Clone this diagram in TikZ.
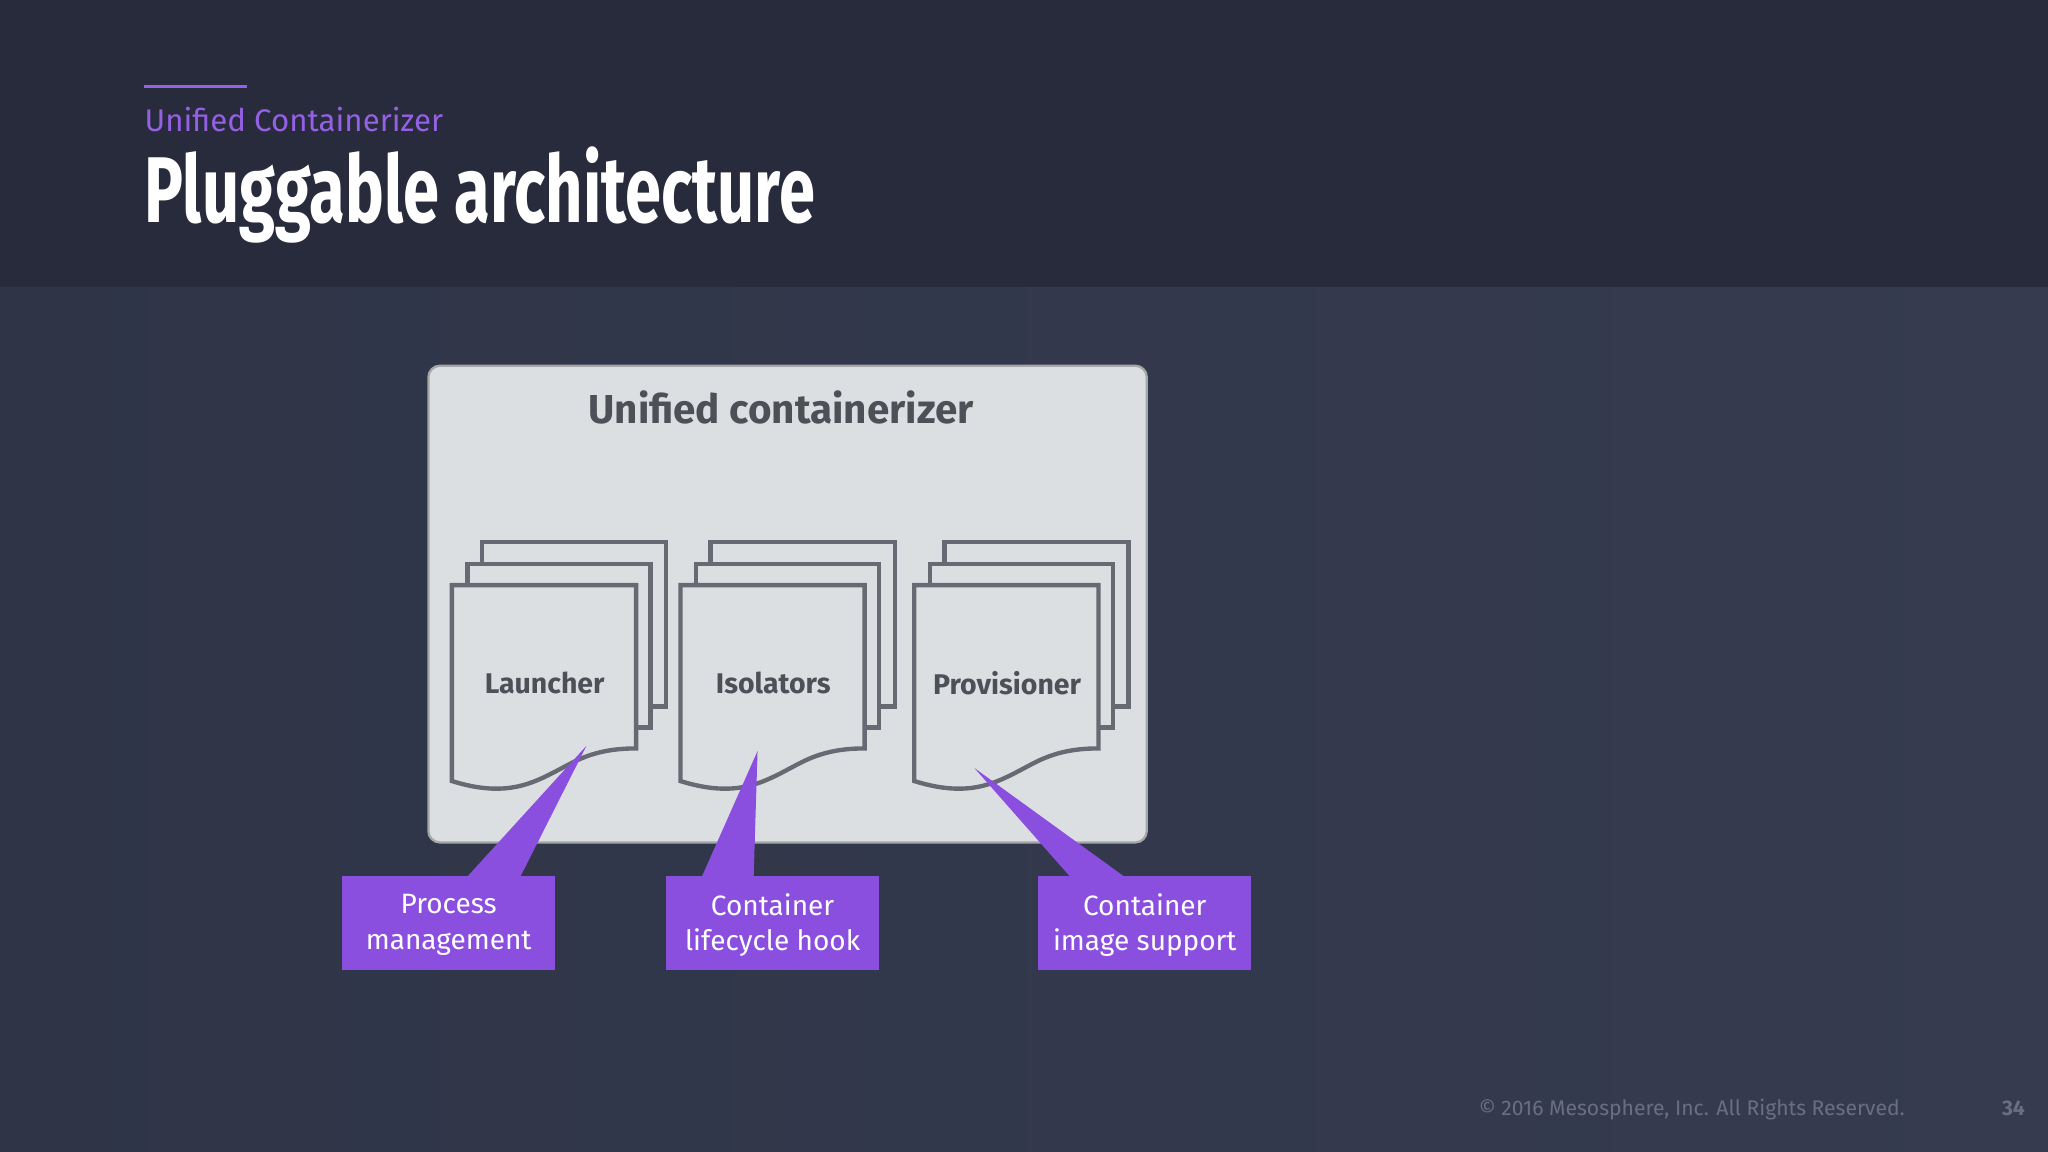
\documentclass[tikz,border=0pt]{standalone}
\usepackage{fontspec}
\setmainfont{Fira Sans}
\usepackage{graphicx}
\definecolor{hdr}{HTML}{272B3B}
\definecolor{bgl}{HTML}{2F3547}
\definecolor{bgr}{HTML}{363B50}
\definecolor{boxg}{HTML}{DCDFE2}
\definecolor{ink}{HTML}{4D5057}
\definecolor{edge}{HTML}{676A73}
\definecolor{purp}{HTML}{8B4FE0}
\definecolor{subp}{HTML}{9560E6}
\definecolor{foot}{HTML}{6A6F80}
\begin{document}
\begin{tikzpicture}[x=0.1mm,y=-0.1mm,
  page/.style={draw=edge,line width=0.95pt,fill=boxg},
  doclabel/.style={text=ink,font=\fontsize{6.2pt}{7pt}\selectfont\bfseries}]
\useasboundingbox (0,0) rectangle (1568,882);
\shade[left color=bgl,right color=bgr] (0,220) rectangle (1568,882);
\fill[hdr] (0,0) rectangle (1568,220);
\draw[subp,line width=0.6pt] (110,66) -- (189,66);
\node[anchor=base west,inner sep=0,text=subp,font=\fontsize{6.8pt}{8pt}\selectfont] (sub) at (110,101) {Unified Containerizer};
\node[anchor=base west,inner sep=0,text=white] (title) at (110,170) {\resizebox{146pt}{16.5pt}{\bfseries Pluggable architecture}};
% main box
\draw[fill=boxg,draw=gray!60!boxg,line width=0.5pt,rounded corners=2.5pt] (328,280) rectangle (878,645);
\node[text=ink,font=\fontsize{8.8pt}{10pt}\selectfont\bfseries] (uc) at (598,312) {Unified containerizer};
% documents
\foreach \x/\t/\n in {346/Launcher/la,521/Isolators/is,700/Provisioner/pr}{
  \draw[page] (\x+23,415) rectangle (\x+164,541);
  \draw[page] (\x+12,432) rectangle (\x+152,557);
  \draw[page] (\x,448) -- (\x+141,448) -- (\x+141,573) .. controls (\x+120,573) and (\x+105,577) .. (\x+90,585)
     .. controls (\x+65,598) and (\x+45,612) .. (\x,598) -- cycle;
  \node[doclabel] (\n) at (\x+71,523) {\t};
}
% callouts
\fill[purp] (357,672) -- (398,672) -- (449,571) -- cycle;
\fill[purp] (537,672) -- (577,672) -- (580,575) -- cycle;
\fill[purp] (820,672) -- (862,672) -- (746,588) -- cycle;
\foreach \x/\a/\b/\n in {262/Process/management/c1,510/Container/lifecycle hook/c2,795/Container/image support/c3}{
  \fill[purp] (\x,671) rectangle (\x+163,743);
  \node[text=white,font=\fontsize{6.1pt}{7.7pt}\selectfont,align=center] (\n) at (\x+81.5,708) {\a\\\b};
}
\node[anchor=base east,inner sep=0,text=foot,font=\fontsize{4.6pt}{6pt}\selectfont] (cr) at (1459,854) {© 2016 Mesosphere, Inc. All Rights Reserved.};
\node[anchor=base east,inner sep=0,text=foot,font=\fontsize{4.6pt}{6pt}\selectfont\bfseries] (pg) at (1551,854) {34};
\end{tikzpicture}
\end{document}
